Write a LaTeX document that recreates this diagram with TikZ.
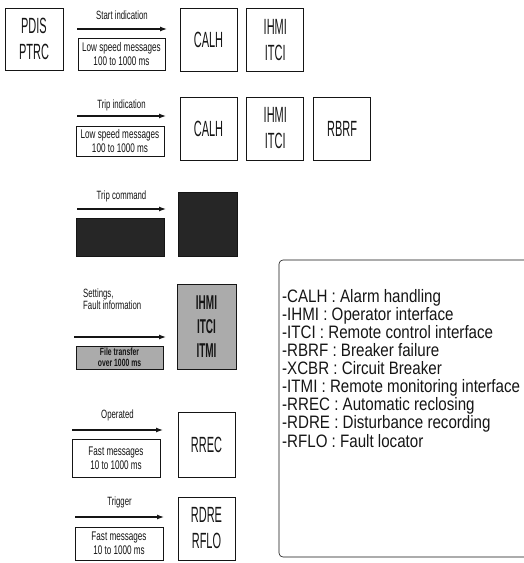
\documentclass[tikz,border=0pt]{standalone}
\usepackage{fontspec}
\usepackage{xcolor}
\usetikzlibrary{arrows.meta,positioning}
\newfontfamily\condfont[FakeStretch=0.65]{Liberation Sans}
\newfontfamily\boxfont[FakeStretch=0.5]{Liberation Sans}
\newfontfamily\legendfont[FakeStretch=0.84]{Liberation Sans}
\definecolor{ScanInk}{HTML}{151515}
\definecolor{ScanDark}{HTML}{262626}
\definecolor{ScanGrey}{HTML}{ABABAB}
\tikzset{
  lnbox/.style={draw=ScanInk,line width=0.8pt,minimum width=57pt,minimum height=63pt,align=center,inner sep=0pt,text=ScanInk,font=\boxfont\fontsize{22}{26}\selectfont},
  msgbox/.style={draw=ScanInk,line width=0.8pt,minimum width=88pt,minimum height=31pt,align=center,inner sep=0pt,text=ScanInk,font=\condfont\fontsize{12.5}{14}\selectfont},
  darkbox/.style={fill=ScanDark},
  greybox/.style={fill=ScanGrey},
  msglabel/.style={font=\condfont\fontsize{12}{12}\selectfont,text=ScanInk},
  legendtext/.style={align=left,inner sep=0pt,text=ScanInk,font=\legendfont\fontsize{18}{18.1}\selectfont},
  flow/.style={-{Latex[length=7pt,width=5pt]},line width=1.2pt,draw=ScanInk},
  legendline/.style={draw=ScanInk,line width=0.6pt,rounded corners=4pt}
}
\begin{document}
\begin{tikzpicture}[x=1pt,y=-1pt]
  \useasboundingbox (0,0) rectangle (524,563);
  % start indication
  \node[lnbox,minimum width=58pt,minimum height=62pt] (ptrc) at (34,39) {PDIS\\PTRC};
  \node[lnbox] (calhA) at (208.5,40) {CALH};
  \node[lnbox,right=9pt of calhA] (ihmiA) {IHMI\\ITCI};
  \coordinate (inA) at (77,29);
  \coordinate (outA) at (167,29);
  \draw[flow] (inA) -- node[msglabel,above=5pt]{Start indication} (outA);
  \node[msgbox,minimum width=87pt,minimum height=32pt] (msgA) at (121.5,54) {Low speed messages\\100 to 1000 ms};
  % trip indication
  \node[lnbox] (calhB) at (208.5,128.5) {CALH};
  \node[lnbox,right=9pt of calhB] (ihmiB) {IHMI\\ITCI};
  \node[lnbox,right=9pt of ihmiB] (rbrf) {RBRF};
  \coordinate (inB) at (77,116);
  \coordinate (outB) at (166,116);
  \draw[flow] (inB) -- node[msglabel,above=1pt]{Trip indication} (outB);
  \node[msgbox,minimum height=30pt] (msgB) at (120,141) {Low speed messages\\100 to 1000 ms};
  % trip command
  \coordinate (inC) at (77,209);
  \coordinate (outC) at (166,209);
  \draw[flow] (inC) -- node[msglabel,above=3pt]{Trip command} (outC);
  \node[msgbox,darkbox,minimum height=38pt] (msgC) at (120,237) {};
  \node[lnbox,darkbox,minimum width=59pt,minimum height=64pt] (xcbr) at (207.5,224) {};
  % settings
  \node[lnbox,greybox,minimum width=59pt,minimum height=85pt,font=\boxfont\bfseries\fontsize{20}{24}\selectfont] (itmi) at (206.5,326.5) {IHMI\\ITCI\\ITMI};
  \node[msglabel,align=left,anchor=south west,inner sep=0pt] (setlbl) at (83,310) {Settings,\\Fault information};
  \coordinate (inD) at (74,337);
  \coordinate (outD) at (166,337);
  \draw[flow] (inD) -- (outD);
  \node[msgbox,greybox,minimum width=87pt,minimum height=23pt,font=\condfont\bfseries\fontsize{10.5}{11}\selectfont] (msgD) at (119.5,357.5) {File transfer\\over 1000 ms};
  % operated
  \node[lnbox,minimum height=65pt] (rrec) at (206.5,444.5) {RREC};
  \coordinate (inE) at (72,430);
  \coordinate (outE) at (163,430);
  \draw[flow] (inE) -- node[msglabel,above=5pt]{Operated} (outE);
  \node[msgbox,minimum height=38pt] (msgE) at (116,458) {Fast messages\\10 to 1000 ms};
  % trigger
  \node[lnbox] (rdre) at (206.5,528.5) {RDRE\\RFLO};
  \coordinate (inF) at (75,517);
  \coordinate (outF) at (164,517);
  \draw[flow] (inF) -- node[msglabel,above=5pt]{Trigger} (outF);
  \node[msgbox,minimum height=33pt] (msgF) at (119,543.5) {Fast messages\\10 to 1000 ms};
  % legend
  \draw[legendline] (524,260) -- (279,260) -- (279,557) -- (524,557);
  \node[legendtext,anchor=north west] (legend) at (282,289) {%
    -CALH : Alarm handling\\
    -IHMI : Operator interface\\
    -ITCI : Remote control interface\\
    -RBRF : Breaker failure\\
    -XCBR : Circuit Breaker\\
    -ITMI : Remote monitoring interface\\
    -RREC : Automatic reclosing\\
    -RDRE : Disturbance recording\\
    -RFLO : Fault locator};
\end{tikzpicture}
\end{document}
